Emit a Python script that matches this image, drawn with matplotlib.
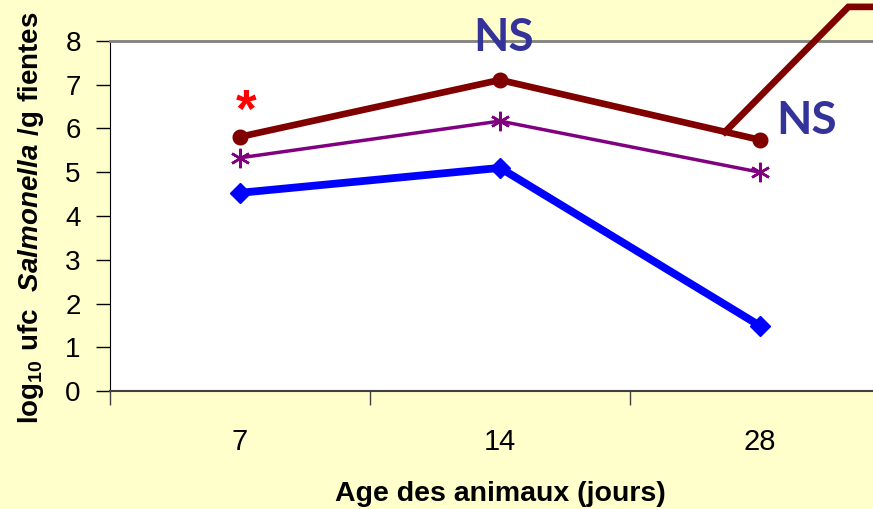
import numpy as np
import matplotlib.pyplot as plt

plt.rcParams['font.family'] = ['Liberation Sans', 'DejaVu Sans']
plt.rcParams['mathtext.fontset'] = 'custom'
plt.rcParams['mathtext.rm'] = 'Liberation Sans'
plt.rcParams['mathtext.bf'] = 'Liberation Sans:bold'
plt.rcParams['mathtext.bfit'] = 'Liberation Sans:bold:italic'

# données
ages = ['7', '14', '28']
serie_rouge = [5.81, 7.11, 5.74]
serie_violet = [5.33, 6.17, 5.00]
serie_bleu = [4.53, 5.10, 1.49]

# trait décoratif (flèche de légende) qui sort du cadre
trait_x = [1.865, 2.34, 2.55]
trait_y = [5.92, 8.78, 8.78]

# annotations : étoile de significativité et NS
etoile = (0.025, 6.03)
ns_x = [1.015, 2.18]
ns_y = [8.07, 6.17]

fond = '#FFFFCC'
fig = plt.figure(figsize=(8.73, 5.09), dpi=100, facecolor=fond)
ax = fig.add_axes([110 / 873, 118 / 509, 780 / 873, 350 / 509])
ax.set_facecolor('white')

x = np.arange(len(ages))
ax.plot(x, serie_rouge, color='#800000', lw=4.8, marker='o', ms=10.5, zorder=4)
ax.plot(x, serie_violet, color='#800080', lw=2.5, marker=(6, 2, 0), ms=14, mew=1.8, zorder=3)
ax.plot(x, serie_bleu, color='#0000FF', lw=5.6, marker='D', ms=10, zorder=3)
ax.plot(trait_x, trait_y, color='#800000', lw=4.8, clip_on=False, zorder=5, solid_joinstyle='miter')

ax.text(etoile[0], etoile[1], '*', color='red', fontsize=38, fontweight='bold', ha='center', va='baseline')
for xx, yy in zip(ns_x, ns_y):
    ax.text(xx, yy, 'NS', color='#333399', fontsize=33, fontweight='bold', ha='center', va='center',
            family=['Lato', 'DejaVu Sans'], clip_on=False, zorder=6)

ax.set_xlim(-0.5, 2.5)
ax.set_ylim(0, 8)
ax.set_yticks(np.arange(0, 9, 1))
ax.tick_params(axis='y', direction='out', length=10, width=1, pad=11, labelsize=20, colors='black')

# étiquettes au centre, graduations aux limites des catégories
ax.set_xticks(x)
ax.set_xticklabels(ages)
ax.tick_params(axis='x', which='major', length=0, pad=27, labelsize=21)
ax.set_xticks(np.arange(-0.5, 3, 1), minor=True)
ax.tick_params(axis='x', which='minor', direction='out', length=10, width=1, color='#404040')

ax.spines['left'].set_color('black')
ax.spines['bottom'].set_color('#404040')
ax.spines['bottom'].set_linewidth(1.5)
ax.spines['top'].set_color('#808080')
ax.spines['top'].set_linewidth(2)
ax.spines['right'].set_visible(False)

fig.text(500 / 873, 8 / 509, 'Age des animaux (jours)', fontsize=20.5, fontweight='bold',
         ha='center', va='baseline')
fig.text(31 / 873, 0.572, r'$\mathbf{log}_{\mathbf{10}}\ \mathbf{ufc}\ \ \mathbfit{Salmonella}\ \mathbf{/g\ fientes}$',
         rotation=90, ha='center', va='center', fontsize=20)

fig.savefig('out.png', dpi=100, facecolor=fond)
